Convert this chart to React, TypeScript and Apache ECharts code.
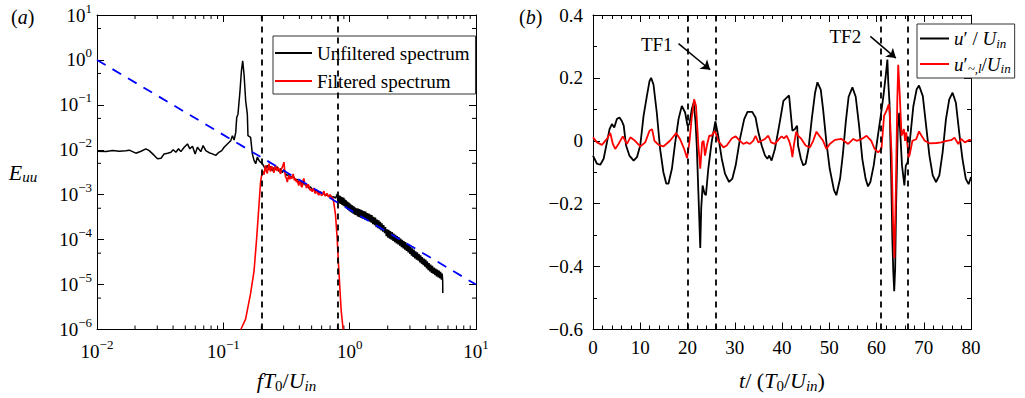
import React, { useEffect, useRef } from 'react';
import * as echarts from 'echarts';

const SERIF = 'Liberation Serif, Times New Roman, serif';

// ---------- Panel (a): spectra ----------
const unfilteredSpectrum: [number, number][] = [
  [0.0100, 0.0093], [0.0118, 0.0092], [0.0133, 0.0096], [0.0150, 0.0093], [0.0169, 0.0095],
  [0.0180, 0.0098], [0.0203, 0.0084], [0.0223, 0.0093], [0.0244, 0.0105], [0.0259, 0.0096],
  [0.0284, 0.0075], [0.0301, 0.0063], [0.0321, 0.0065], [0.0340, 0.0081], [0.0362, 0.0084],
  [0.0385, 0.0088], [0.0401, 0.0100], [0.0421, 0.0088], [0.0442, 0.0105], [0.0461, 0.0091],
  [0.0490, 0.0114], [0.0520, 0.0135], [0.0543, 0.0105], [0.0570, 0.0120], [0.0598, 0.0081],
  [0.0624, 0.0114], [0.0663, 0.0091], [0.0692, 0.0124], [0.0726, 0.0096], [0.0771, 0.0086],
  [0.0820, 0.0081], [0.0871, 0.0075], [0.0914, 0.0086], [0.0972, 0.0096], [0.1014, 0.0114],
  [0.1077, 0.0135], [0.1111, 0.0147], [0.1145, 0.0160], [0.1180, 0.0206], [0.1217, 0.0165],
  [0.1254, 0.0244], [0.1276, 0.0524], [0.1306, 0.0620], [0.1355, 0.203], [0.1390, 0.561],
  [0.1423, 0.95], [0.1459, 0.473], [0.1503, 0.122], [0.1549, 0.062], [0.1567, 0.0206],
  [0.1644, 0.0189], [0.1697, 0.0081], [0.1750, 0.0058], [0.1804, 0.0049], [0.1860, 0.0069],
  [0.1915, 0.0058], [0.1970, 0.0053], [0.2036, 0.0049], [0.210, 0.0042], [0.216, 0.0038],
  [0.223, 0.0045], [0.230, 0.0036], [0.237, 0.0043], [0.244, 0.0034], [0.252, 0.0040],
  [0.259, 0.0036], [0.267, 0.0042], [0.275, 0.0033], [0.284, 0.0038], [0.293, 0.0031],
  [0.302, 0.0036], [0.311, 0.0029], [0.321, 0.0027], [0.331, 0.0028], [0.341, 0.0024],
  [0.357, 0.0026], [0.373, 0.0021], [0.385, 0.0022], [0.396, 0.0018], [0.408, 0.0020],
  [0.421, 0.0016], [0.434, 0.0019], [0.448, 0.0016], [0.461, 0.0017], [0.475, 0.0014],
  [0.490, 0.0015], [0.505, 0.0013], [0.521, 0.00135], [0.537, 0.00118], [0.553, 0.00125],
  [0.570, 0.00108], [0.588, 0.00115], [0.606, 0.00100], [0.625, 0.00108], [0.644, 0.00096],
  [0.664, 0.00100], [0.684, 0.00092], [0.705, 0.00095], [0.727, 0.00088], [0.750, 0.00090],
  [0.773, 0.00084], [0.80, 0.00105], [0.805, 0.00070], [0.81, 0.00100], [0.815, 0.00066],
  [0.82, 0.00097], [0.83, 0.00064], [0.84, 0.00094], [0.85, 0.00062], [0.86, 0.00090],
  [0.87, 0.00059], [0.88, 0.00088], [0.89, 0.00057], [0.90, 0.00085], [0.91, 0.00055],
  [0.92, 0.00078], [0.93, 0.00052], [0.94, 0.00075], [0.95, 0.00049], [0.96, 0.00070],
  [0.97, 0.00046], [0.98, 0.00068], [0.99, 0.00044], [1.00, 0.00064], [1.01, 0.00042],
  [1.02, 0.00061], [1.035, 0.00040], [1.05, 0.00058], [1.065, 0.00038], [1.08, 0.00055],
  [1.095, 0.00036], [1.11, 0.00052], [1.125, 0.00035], [1.14, 0.00050], [1.155, 0.00033],
  [1.17, 0.00049], [1.185, 0.00032], [1.20, 0.00048], [1.215, 0.00031], [1.23, 0.00046],
  [1.245, 0.00030], [1.26, 0.00045], [1.28, 0.00029], [1.30, 0.00043], [1.32, 0.00028],
  [1.34, 0.00042], [1.36, 0.00027], [1.38, 0.00039], [1.40, 0.00026], [1.42, 0.00038],
  [1.44, 0.00025], [1.46, 0.00036], [1.48, 0.00024], [1.50, 0.00035], [1.525, 0.00022],
  [1.55, 0.00032], [1.575, 0.00021], [1.60, 0.00031], [1.625, 0.00019], [1.65, 0.00028],
  [1.675, 0.00018], [1.70, 0.00027], [1.725, 0.00017], [1.75, 0.00025], [1.775, 0.00016],
  [1.80, 0.00023], [1.83, 0.00015], [1.86, 0.00021], [1.89, 0.00014], [1.92, 0.00019],
  [1.95, 0.00012], [1.98, 0.00017], [2.01, 0.00011], [2.04, 0.000165], [2.07, 0.000105],
  [2.10, 0.000155], [2.135, 0.000100], [2.17, 0.000148], [2.205, 0.000094], [2.24, 0.000136],
  [2.275, 0.000088], [2.31, 0.000128], [2.345, 0.000082], [2.38, 0.000120], [2.415, 0.000078],
  [2.45, 0.000114], [2.49, 0.000073], [2.53, 0.000106], [2.57, 0.000068], [2.61, 0.000099],
  [2.65, 0.000064], [2.69, 0.000093], [2.73, 0.000060], [2.77, 0.000088], [2.815, 0.000056],
  [2.86, 0.000082], [2.905, 0.000052], [2.95, 0.000076], [2.995, 0.000048], [3.04, 0.000069],
  [3.085, 0.000044], [3.13, 0.000064], [3.18, 0.000041], [3.23, 0.000060], [3.28, 0.000038],
  [3.33, 0.000055], [3.38, 0.000036], [3.43, 0.000052], [3.485, 0.000034], [3.54, 0.000048],
  [3.595, 0.000031], [3.65, 0.000045], [3.705, 0.000029], [3.76, 0.000041], [3.82, 0.000027],
  [3.88, 0.000038], [3.94, 0.000025], [4.00, 0.000036], [4.06, 0.000023], [4.12, 0.000033],
  [4.185, 0.000021], [4.25, 0.000030], [4.315, 0.0000195], [4.38, 0.000028], [4.45, 0.0000182],
  [4.52, 0.000026], [4.59, 0.0000172], [4.66, 0.000024], [4.73, 0.0000162], [4.80, 0.0000228],
  [4.875, 0.0000152], [4.95, 0.0000215], [5.025, 0.0000145], [5.10, 0.0000205], [5.175, 0.0000138],
  [5.25, 0.0000192], [5.325, 0.0000128], [5.40, 0.0000175], [5.45, 0.000012], [5.46, 0.0000065],
];

const filteredSpectrum: [number, number][] = [
  [0.1375, 1e-6], [0.150, 1.7e-6], [0.164, 6.1e-6], [0.175, 2.0e-5], [0.1836, 1.08e-4],
  [0.1915, 5.9e-4], [0.197, 1.9e-3], [0.201, 2.7e-3], [0.205, 0.0033], [0.210, 0.0028],
  [0.213, 0.0037], [0.216, 0.0045], [0.219, 0.0033], [0.223, 0.0030], [0.227, 0.0042],
  [0.230, 0.0049], [0.233, 0.0036], [0.237, 0.0033], [0.240, 0.0043], [0.244, 0.0041],
  [0.248, 0.0034], [0.252, 0.0031], [0.255, 0.0040], [0.259, 0.0045], [0.263, 0.0036],
  [0.267, 0.0034], [0.271, 0.0040], [0.275, 0.0038], [0.280, 0.0032], [0.284, 0.0029],
  [0.288, 0.0037], [0.293, 0.0041], [0.297, 0.0046], [0.302, 0.0053], [0.306, 0.0034],
  [0.311, 0.0025], [0.316, 0.0023], [0.321, 0.0019], [0.326, 0.0024], [0.331, 0.0027],
  [0.336, 0.0022], [0.341, 0.0025], [0.349, 0.0023], [0.357, 0.0029], [0.365, 0.0021],
  [0.373, 0.0023], [0.379, 0.0019], [0.385, 0.0021], [0.390, 0.0018], [0.396, 0.0016],
  [0.402, 0.0020], [0.408, 0.0019], [0.415, 0.0015], [0.421, 0.0015], [0.428, 0.0021],
  [0.434, 0.0023], [0.441, 0.0017], [0.448, 0.0018], [0.455, 0.0014], [0.461, 0.0015],
  [0.468, 0.0017], [0.475, 0.0016], [0.482, 0.0013], [0.490, 0.00126], [0.497, 0.00135],
  [0.505, 0.00116], [0.513, 0.0013], [0.521, 0.0014], [0.529, 0.00112], [0.537, 0.00106],
  [0.545, 0.0012], [0.553, 0.00126], [0.561, 0.00104], [0.570, 0.00098], [0.579, 0.0011],
  [0.588, 0.00116], [0.597, 0.00096], [0.606, 0.00098], [0.615, 0.0011], [0.625, 0.0012],
  [0.634, 0.00098], [0.644, 0.00094], [0.654, 0.00104], [0.664, 0.00106], [0.674, 0.00092],
  [0.684, 0.0009], [0.694, 0.00099], [0.705, 0.00098], [0.716, 0.00088], [0.727, 0.00085],
  [0.738, 0.00082], [0.750, 0.00064], [0.773, 0.00035], [0.796, 1.08e-4], [0.816, 2.8e-5],
  [0.836, 8.5e-6], [0.857, 2.6e-6], [0.888, 1e-6],
];

const kolmogorovLine: [number, number][] = [[0.01, 1], [10, 1e-5]];
const spectrumCutoffs = [0.2, 0.8];
const logMinorTicksX = [
  0.02, 0.03, 0.04, 0.05, 0.06, 0.07, 0.08, 0.09,
  0.2, 0.3, 0.4, 0.5, 0.6, 0.7, 0.8, 0.9,
  2, 3, 4, 5, 6, 7, 8, 9,
];
const logMinorTicksY = [5e-6, 5e-5, 5e-4, 5e-3, 5e-2, 0.5, 5];

// ---------- Panel (b): time signals ----------
const uPrime: [number, number][] = [
  [0, -0.047], [0.84, -0.073], [1.54, -0.076], [2.25, -0.057], [2.95, -0.005], [3.5, 0.037],
  [4.0, 0.053], [4.5, 0.042], [5.06, 0.069], [5.6, 0.074], [6.1, 0.063], [6.5, 0.048],
  [7.0, -0.015], [7.7, -0.047], [8.6, -0.063], [9.3, -0.052], [10.0, -0.015], [10.7, 0.079],
  [11.4, 0.142], [11.96, 0.19], [12.3, 0.2], [12.8, 0.179], [13.5, 0.09], [14.2, -0.026],
  [14.9, -0.1], [15.5, -0.136], [15.98, -0.136], [16.7, -0.089], [17.4, -0.005], [18.1, 0.069],
  [18.8, 0.111], [19.5, 0.09], [20.0, 0.048], [20.4, 0.053], [20.9, 0.1], [21.3, 0.121],
  [21.7, 0.06], [21.96, -0.015], [22.3, -0.163], [22.7, -0.341], [22.9, -0.215], [23.2, -0.142],
  [23.6, -0.168], [23.9, -0.173], [24.4, -0.089], [25.1, -0.005], [25.9, 0.062], [26.5, 0.016],
  [27.25, -0.057], [27.95, -0.105], [28.8, -0.131], [29.5, -0.12], [30.2, -0.078], [31.1, 0.006],
  [32.0, 0.069], [32.7, 0.092], [33.7, 0.092], [34.4, 0.074], [35.0, 0.027], [35.7, -0.015],
  [36.4, -0.047], [36.9, -0.057], [37.3, -0.047], [37.8, -0.063], [38.5, -0.026], [39.4, 0.048],
  [40.3, 0.127], [41.0, 0.137], [41.5, 0.144], [41.9, 0.079], [42.2, 0.032], [42.7, 0.037],
  [43.2, 0.048], [43.4, -0.015], [44.0, -0.057], [44.5, -0.078], [45.0, -0.073], [45.6, -0.026],
  [46.3, 0.069], [47.0, 0.153], [47.5, 0.186], [48.2, 0.163], [48.7, 0.1], [49.4, -0.005],
  [50.1, -0.089], [51.0, -0.157], [51.5, -0.173], [52.3, -0.12], [52.9, -0.04], [53.5, 0.06],
  [54.1, 0.14], [54.9, 0.17], [55.6, 0.14], [56.3, 0.05], [57.0, -0.058], [57.7, -0.121],
  [58.2, -0.145], [58.7, -0.131], [59.4, -0.079], [60.2, 0.006], [60.9, 0.079], [61.5, 0.147],
  [62.0, 0.213], [62.3, 0.258], [62.5, 0.184], [62.75, 0.121], [63.1, -0.1], [63.35, -0.31],
  [63.55, -0.415], [63.75, -0.478], [63.95, -0.405], [64.15, -0.205], [64.5, 0.04], [64.8, 0.089],
  [65.4, -0.079], [65.9, -0.142], [66.2, -0.079], [66.6, -0.068], [67.1, 0.006], [67.8, 0.11],
  [68.5, 0.164], [69.0, 0.176], [69.8, 0.142], [70.5, 0.048], [71.2, -0.047], [71.9, -0.11],
  [72.6, -0.131], [73.3, -0.11], [74.0, -0.036], [74.7, 0.069], [75.4, 0.132], [76.1, 0.153],
  [76.8, 0.121], [77.5, 0.027], [78.2, -0.058], [78.9, -0.121], [79.5, -0.138], [80.0, -0.115],
];

const uFiltered: [number, number][] = [
  [0, 0.011], [0.84, -0.005], [1.9, -0.013], [2.95, 0.006], [3.66, 0.025], [4.2, -0.01],
  [4.7, -0.026], [5.4, -0.01], [6.3, 0.014], [7.2, -0.01], [7.9, 0.011], [8.9, 0.0],
  [10.0, -0.018], [11.05, -0.005], [11.96, 0.032], [12.5, 0.037], [13.0, 0.0], [13.9, -0.013],
  [14.9, -0.018], [16.3, 0.0], [17.6, 0.025], [18.4, 0.006], [19.3, -0.026], [19.9, -0.055],
  [20.4, -0.005], [20.9, 0.074], [21.4, 0.132], [21.8, 0.111], [22.3, -0.015], [22.7, -0.089],
  [23.1, -0.005], [23.4, 0.0], [23.7, -0.047], [24.1, -0.015], [24.6, 0.016], [25.1, 0.016],
  [25.8, 0.032], [26.5, 0.0], [27.6, -0.021], [28.3, -0.015], [29.4, 0.008], [30.2, 0.014],
  [31.1, 0.0], [31.8, -0.01], [32.5, -0.005], [33.2, -0.01], [33.9, 0.0], [34.4, 0.016],
  [35.0, -0.005], [35.7, 0.0], [36.4, 0.006], [37.1, 0.016], [37.7, -0.005], [38.5, -0.01],
  [39.4, 0.006], [39.9, 0.014], [40.4, 0.008], [41.0, 0.016], [41.5, 0.0], [41.9, -0.021],
  [42.2, -0.052], [42.5, -0.015], [43.0, 0.029], [43.4, 0.016], [44.1, 0.006], [45.0, -0.015],
  [45.9, -0.021], [46.6, 0.0], [47.3, 0.029], [48.0, 0.014], [48.7, 0.0], [49.4, -0.026],
  [50.1, -0.01], [51.2, 0.003], [52.6, 0.006], [54.0, -0.01], [55.1, 0.006], [55.8, 0.0],
  [56.8, 0.005], [57.9, 0.016], [58.9, 0.0], [59.6, -0.026], [60.35, -0.037], [61.05, -0.026],
  [61.6, 0.079], [62.1, 0.095], [62.6, 0.116], [62.8, 0.09], [63.2, -0.047], [63.5, -0.257],
  [63.8, -0.373], [64.1, -0.152], [64.4, 0.127], [64.6, 0.242], [64.9, 0.153], [65.3, 0.016],
  [65.8, 0.037], [66.05, 0.0], [66.3, 0.027], [66.8, -0.052], [67.0, -0.045], [67.6, 0.0],
  [68.4, 0.005], [69.0, 0.03], [69.5, 0.017], [70.2, 0.0], [71.3, -0.008], [72.7, -0.007],
  [73.7, -0.005], [74.8, 0.0], [75.8, 0.002], [76.5, 0.01], [77.3, -0.01], [77.9, 0.006],
  [78.7, -0.005], [79.7, 0.003], [80, 0.0],
];

const transientWindows = [20.1, 25.9, 60.9, 66.6];
const annotationLabels = [
  { text: 'TF1', at: [13.5, 0.305], arrowFrom: [18.1, 0.309], arrowTo: [24.8, 0.226] },
  { text: 'TF2', at: [53.4, 0.332], arrowFrom: [58.7, 0.332], arrowTo: [64.1, 0.263] },
];

const richMath = (size: number) => ({
  i: { fontFamily: SERIF, fontStyle: 'italic', fontWeight: 'normal', fontSize: size, color: '#000' },
  n: { fontFamily: SERIF, fontWeight: 'normal', fontSize: size, color: '#000' },
  sub: { fontFamily: SERIF, fontWeight: 'normal', fontSize: Math.round(size * 0.7), color: '#000', padding: [Math.round(size * 0.45), 0, 0, 0] },
  isub: { fontFamily: SERIF, fontStyle: 'italic', fontWeight: 'normal', fontSize: Math.round(size * 0.7), color: '#000', padding: [Math.round(size * 0.45), 0, 0, 0] },
});

const powRich = {
  b: { fontFamily: SERIF, fontSize: 19, color: '#000' },
  s: { fontFamily: SERIF, fontSize: 13, color: '#000', padding: [0, 0, 14, 0] },
};

const powLabel = (v: number) => {
  const e = Math.round(Math.log10(v));
  const t = e < 0 ? '\u2212' + -e : String(e);
  return `{b|10}{s|${t}}`;
};

const linLabel = (v: number) => {
  if (Math.abs(v) < 1e-9) return '0';
  const s = Math.abs(v).toFixed(1);
  return v < 0 ? '\u2212' + s : s;
};

const tickLine = (x1: number, y1: number, x2: number, y2: number) => ({
  type: 'line',
  shape: { x1, y1, x2, y2 },
  style: { stroke: '#000', lineWidth: 1 },
});

export default function App() {
  const ref = useRef<HTMLDivElement>(null);

  useEffect(() => {
    if (!ref.current) return;
    const chart = echarts.init(ref.current, undefined, { renderer: 'svg' });

    const axisBase = {
      axisLine: { show: true, onZero: false, lineStyle: { color: '#000', width: 1 } },
      axisTick: { show: true, inside: true, length: 7, lineStyle: { color: '#000', width: 1 } },
      splitLine: { show: false },
    };

    const option: any = {
      animation: false,
      backgroundColor: '#fff',
      title: [
        { text: '{n|(}{i|a}{n|)}', left: 6, top: 2, textStyle: { fontWeight: 'normal', rich: richMath(20) } },
        { text: '{n|(}{i|b}{n|)}', left: 514, top: 2, textStyle: { fontWeight: 'normal', rich: richMath(20) } },
      ],
      grid: [
        { left: 97, top: 15, width: 379, height: 317, containLabel: false },
        { left: 593, top: 15, width: 378, height: 317, containLabel: false },
      ],
      xAxis: [
        {
          ...axisBase, gridIndex: 0, type: 'log', logBase: 10, min: 0.01, max: 10, interval: 1, position: 'bottom',
          axisLabel: { margin: 8, formatter: powLabel, rich: powRich },
          name: '{i|fT}{sub|0}{n|/}{i|U}{isub|in}', nameLocation: 'middle', nameGap: 51,
          nameTextStyle: { rich: richMath(22), align: 'center', verticalAlign: 'middle' },
        },
        {
          ...axisBase, gridIndex: 0, type: 'log', logBase: 10, min: 0.01, max: 10, interval: 1, position: 'top',
          axisLabel: { show: false },
        },
        {
          ...axisBase, gridIndex: 1, type: 'value', min: 0, max: 80, interval: 10, position: 'bottom',
          minorTick: { show: true, splitNumber: 5, length: 4, lineStyle: { color: '#000', width: 1 } },
          axisLabel: { margin: 8, color: '#000', fontFamily: SERIF, fontSize: 19 },
          name: '{i|t}{n|/ (}{i|T}{sub|0}{n|/}{i|U}{isub|in}{n|)}', nameLocation: 'middle', nameGap: 51,
          nameTextStyle: { rich: richMath(22), align: 'center', verticalAlign: 'middle' },
        },
        {
          ...axisBase, gridIndex: 1, type: 'value', min: 0, max: 80, interval: 10, position: 'top',
          minorTick: { show: true, splitNumber: 5, length: 4, lineStyle: { color: '#000', width: 1 } },
          axisLabel: { show: false },
        },
      ],
      yAxis: [
        {
          ...axisBase, gridIndex: 0, type: 'log', logBase: 10, min: 1e-6, max: 10, interval: 1, position: 'left',
          axisLabel: { margin: 5, formatter: powLabel, rich: powRich },
          name: '{i|E}{isub|uu}', nameLocation: 'middle', nameRotate: 0, nameGap: 74,
          nameTextStyle: { rich: richMath(22), align: 'center', verticalAlign: 'middle' },
        },
        {
          ...axisBase, gridIndex: 0, type: 'log', logBase: 10, min: 1e-6, max: 10, interval: 1, position: 'right',
          axisLabel: { show: false },
        },
        {
          ...axisBase, gridIndex: 1, type: 'value', min: -0.6, max: 0.4, interval: 0.2, position: 'left',
          minorTick: { show: true, splitNumber: 2, length: 4, lineStyle: { color: '#000', width: 1 } },
          axisLabel: { margin: 10, color: '#000', fontFamily: SERIF, fontSize: 19, formatter: linLabel },
        },
        {
          ...axisBase, gridIndex: 1, type: 'value', min: -0.6, max: 0.4, interval: 0.2, position: 'right',
          minorTick: { show: true, splitNumber: 2, length: 4, lineStyle: { color: '#000', width: 1 } },
          axisLabel: { show: false },
        },
      ],
      legend: [
        {
          data: [
            { name: 'Unfiltered spectrum', icon: 'rect' },
            { name: 'Filtered spectrum', icon: 'rect' },
          ],
          left: 273, top: 36, orient: 'vertical',
          itemWidth: 37, itemHeight: 2, itemGap: 8,
          padding: [7, 6, 3, 2],
          borderColor: '#333', borderWidth: 1, backgroundColor: '#fff',
          selectedMode: false,
          textStyle: { fontFamily: SERIF, fontSize: 19, color: '#000', lineHeight: 20 },
        },
        {
          data: [
            { name: 'u1', icon: 'rect' },
            { name: 'u2', icon: 'rect' },
          ],
          left: 917, top: 24, orient: 'vertical',
          itemWidth: 29, itemHeight: 2, itemGap: 5,
          padding: [5, 4, 3, 3],
          borderColor: '#333', borderWidth: 1, backgroundColor: '#fff',
          selectedMode: false,
          formatter: (name: string) =>
            name === 'u1'
              ? '{i|u}{n|\u2032 / }{i|U}{isub|in}'
              : '{i|u}{n|\u2032}{isub|~,l}{n|/}{i|U}{isub|in}',
          textStyle: { rich: richMath(19) },
        },
      ],
      series: [
        {
          name: 'Unfiltered spectrum', type: 'line', xAxisIndex: 0, yAxisIndex: 0,
          data: unfilteredSpectrum, symbol: 'none', z: 2,
          lineStyle: { color: '#000', width: 1.5 }, itemStyle: { color: '#000' },
          markLine: {
            silent: true, symbol: 'none', label: { show: false },
            lineStyle: { color: '#000', width: 1.8, type: [6, 5] },
            data: spectrumCutoffs.map((f) => ({ xAxis: f })),
          },
        },
        {
          name: 'Filtered spectrum', type: 'line', xAxisIndex: 0, yAxisIndex: 0,
          data: filteredSpectrum, symbol: 'none', z: 3,
          lineStyle: { color: '#ff0000', width: 1.6 }, itemStyle: { color: '#ff0000' },
        },
        {
          name: 'k53', type: 'line', xAxisIndex: 0, yAxisIndex: 0,
          data: kolmogorovLine, symbol: 'none', z: 4,
          lineStyle: { color: '#0000ff', width: 1.8, type: [10, 8] },
        },
        {
          name: 'minorX', type: 'custom', xAxisIndex: 0, yAxisIndex: 0, silent: true, clip: false, z: 1,
          data: logMinorTicksX.map((f) => [f, 1]),
          renderItem: (params: any, api: any) => {
            const cs = params.coordSys;
            const x = api.coord([api.value(0), 1])[0];
            return {
              type: 'group',
              children: [
                tickLine(x, cs.y + cs.height, x, cs.y + cs.height - 4),
                tickLine(x, cs.y, x, cs.y + 4),
              ],
            };
          },
        },
        {
          name: 'minorY', type: 'custom', xAxisIndex: 0, yAxisIndex: 0, silent: true, clip: false, z: 1,
          data: logMinorTicksY.map((v) => [1, v]),
          renderItem: (params: any, api: any) => {
            const cs = params.coordSys;
            const y = api.coord([1, api.value(1)])[1];
            return {
              type: 'group',
              children: [
                tickLine(cs.x, y, cs.x + 4, y),
                tickLine(cs.x + cs.width, y, cs.x + cs.width - 4, y),
              ],
            };
          },
        },
        {
          name: 'u1', type: 'line', xAxisIndex: 2, yAxisIndex: 2,
          data: uPrime, symbol: 'none', z: 2,
          lineStyle: { color: '#000', width: 1.8 }, itemStyle: { color: '#000' },
          markLine: {
            silent: true, symbol: 'none', label: { show: false },
            lineStyle: { color: '#000', width: 1.8, type: [6, 5] },
            data: transientWindows.map((t) => ({ xAxis: t })),
          },
          markPoint: {
            silent: true,
            symbol: 'circle', symbolSize: 1,
            itemStyle: { color: 'rgba(0,0,0,0)' },
            label: { show: true, position: 'inside', color: '#000', fontFamily: SERIF, fontSize: 19, formatter: (p: any) => p.name },
            data: annotationLabels.map((a) => ({ name: a.text, coord: a.at })),
          },
        },
        {
          name: 'u2', type: 'line', xAxisIndex: 2, yAxisIndex: 2,
          data: uFiltered, symbol: 'none', z: 3,
          lineStyle: { color: '#ff0000', width: 1.8 }, itemStyle: { color: '#ff0000' },
          markLine: {
            silent: true, symbol: ['none', 'arrow'], symbolSize: 9, label: { show: false },
            lineStyle: { color: '#000', width: 1.5, type: 'solid' },
            itemStyle: { color: '#000' },
            data: annotationLabels.map((a) => [{ coord: a.arrowFrom }, { coord: a.arrowTo }]),
          },
        },
      ],
    };

    chart.setOption(option);
    return () => chart.dispose();
  }, []);

  return (
    <div
      ref={ref}
      style={{ position: 'fixed', left: 0, top: 0, width: 1025, height: 398, background: '#fff' }}
    />
  );
}
